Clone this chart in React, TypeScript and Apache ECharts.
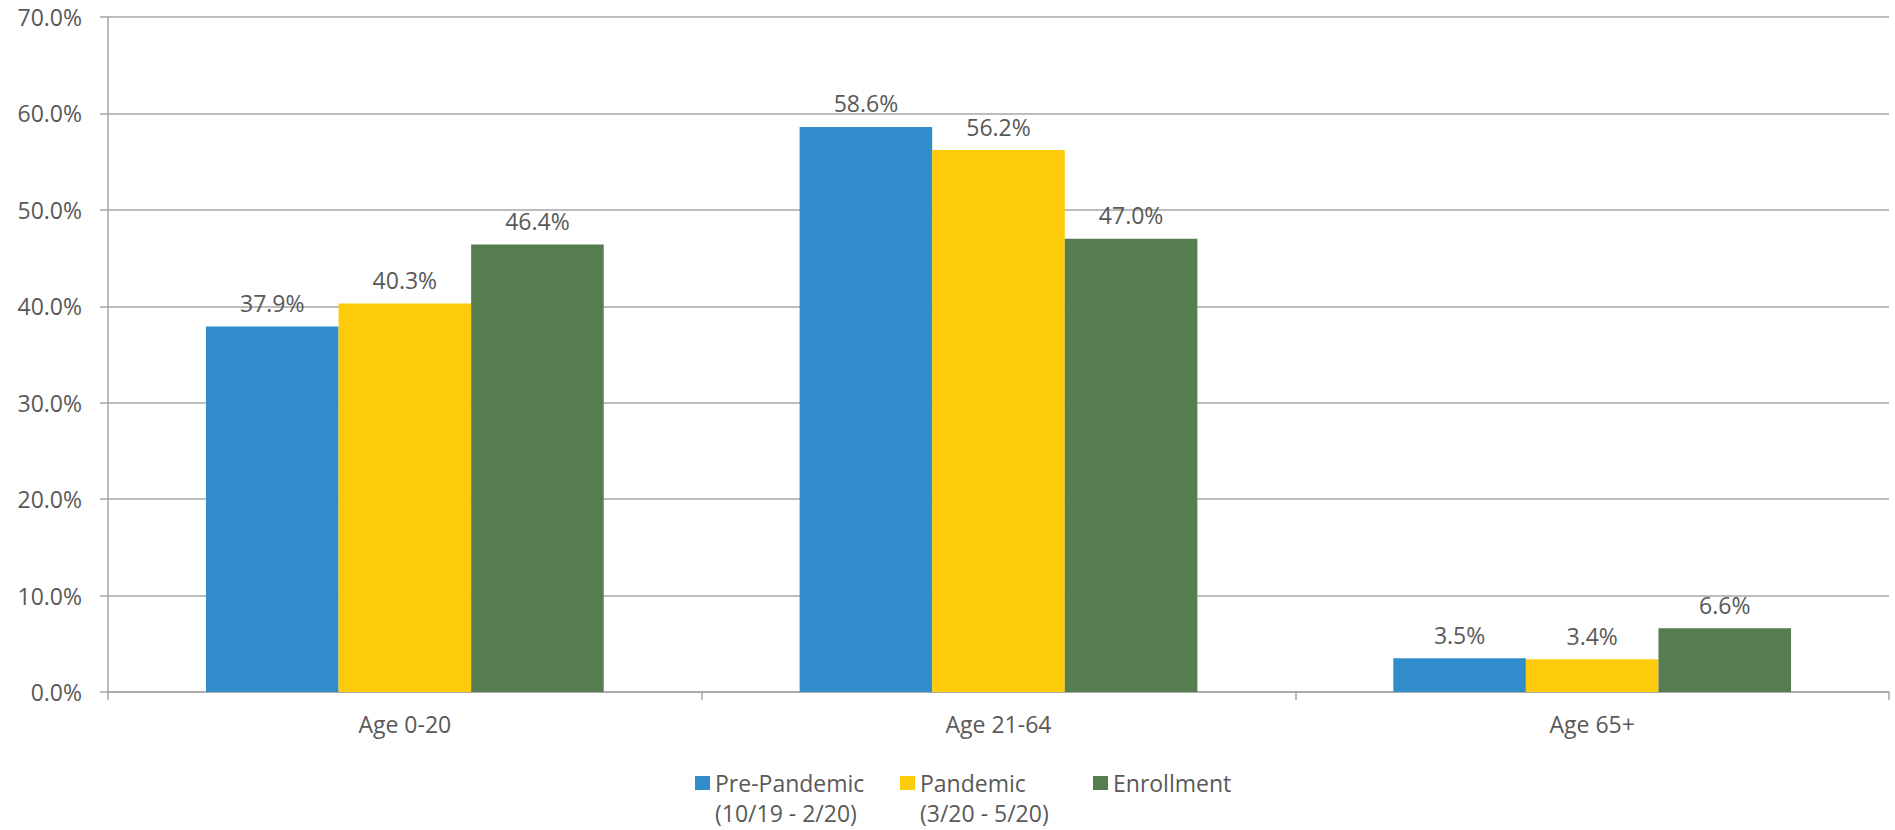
import React, { useEffect, useRef } from "react";
import * as echarts from "echarts";

const categories = ["Age 0-20", "Age 21-64", "Age 65+"];
const seriesNames = [
  "Pre-Pandemic\n(10/19 - 2/20)",
  "Pandemic\n(3/20 - 5/20)",
  "Enrollment",
];
const prePandemic = [37.9, 58.6, 3.5];
const pandemic = [40.3, 56.2, 3.4];
const enrollment = [46.4, 47.0, 6.6];
const yTicks = [0, 10, 20, 30, 40, 50, 60, 70];

const colors = ["#318CCB", "#FDCB0A", "#567D4F"];
const textColor = "#595959";
const lineColor = "#A6A6A6";
const FONT = "'Open Sans', sans-serif";
const FS = 23;
const LEGEND_LH = 30;

export default function App() {
  const ref = useRef<HTMLDivElement>(null);
  useEffect(() => {
    if (!ref.current) return;
    const chart = echarts.init(ref.current, null, { renderer: "svg" });
    const values = [prePandemic, pandemic, enrollment];
    const iconH = 14 + LEGEND_LH;
    const twoLineIcon = `path://M0 0H15V14H0Z M0 ${iconH - 0.01}H0.01V${iconH}H0Z`;
    const legendLefts = [695, 900, 1093];
    chart.setOption({
      animation: false,
      textStyle: { fontFamily: FONT },
      grid: { left: 108, right: 6, top: 17, bottom: 138, containLabel: false },
      legend: seriesNames.map((n, i) => ({
        data: [n],
        left: legendLefts[i],
        top: 768,
        padding: 0,
        orient: "horizontal",
        selectedMode: false,
        icon: n.includes("\n") ? twoLineIcon : "rect",
        itemWidth: 15,
        itemHeight: n.includes("\n") ? iconH : 14,
        textStyle: {
          color: textColor,
          fontSize: FS,
          lineHeight: LEGEND_LH,
          fontFamily: FONT,
        },
      })),
      xAxis: {
        type: "category",
        data: categories,
        axisLine: { show: true, lineStyle: { color: lineColor, width: 1.5 } },
        axisTick: { show: true, length: 8, lineStyle: { color: lineColor, width: 1.5 } },
        axisLabel: { color: textColor, fontSize: FS, margin: 20, fontFamily: FONT },
        splitLine: { show: false },
      },
      yAxis: {
        type: "value",
        min: yTicks[0],
        max: yTicks[yTicks.length - 1],
        interval: 10,
        axisLine: { show: true, lineStyle: { color: lineColor, width: 1.5 } },
        axisTick: { show: true, length: 8, lineStyle: { color: lineColor, width: 1.5 } },
        axisLabel: {
          color: textColor,
          fontSize: FS,
          margin: 26,
          fontFamily: FONT,
          formatter: (v: number) => v.toFixed(1) + "%",
        },
        splitLine: { show: true, lineStyle: { color: lineColor, width: 1.5 } },
      },
      series: seriesNames.map((n, i) => ({
        name: n,
        type: "bar",
        data: values[i],
        barGap: "0%",
        barCategoryGap: "33%",
        itemStyle: { color: colors[i] },
        label: {
          show: true,
          position: "top",
          distance: 12,
          color: textColor,
          fontSize: FS,
          fontFamily: FONT,
          formatter: (p: any) => Number(p.value).toFixed(1) + "%",
        },
      })),
    });
    return () => chart.dispose();
  }, []);
  return (
    <div
      ref={ref}
      style={{ position: "fixed", left: 0, top: 0, width: 1895, height: 830, background: "#fff" }}
    />
  );
}
